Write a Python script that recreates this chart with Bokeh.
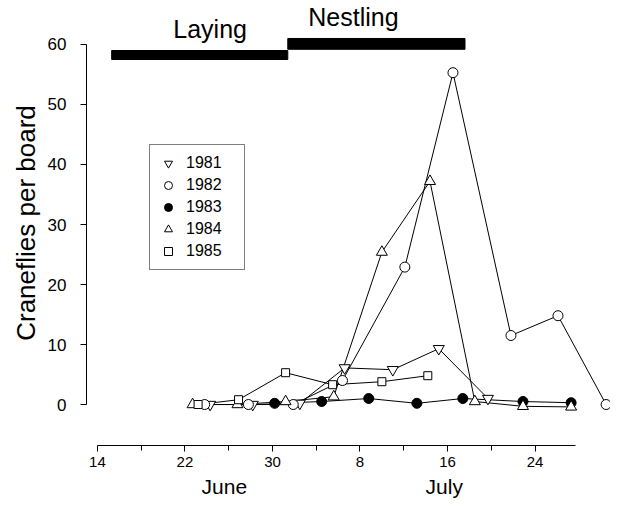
from bokeh.plotting import figure
from bokeh.models import (FixedTicker, LinearAxis, Range1d, Legend, LegendItem)
from bokeh.embed import file_html
from bokeh.resources import INLINE
from bokeh.core.properties import value

# Day numbers: June d -> d, July d -> 30 + d
tick_days = [14, 22, 30, 38, 46, 54]
tick_labels = ["14", "22", "30", "8", "16", "24"]
minor_days = [18, 26, 34, 42, 50]
month_days = [25.6, 45.7]
month_labels = ["June", "July"]

years = ["1981", "1982", "1983", "1984", "1985"]
days_1981 = [24.3, 28.2, 32.5, 36.6, 41.0, 45.2, 49.7]
vals_1981 = [0.0, 0.0, 0.2, 6.1, 5.8, 9.3, 1.0]
days_1982 = [23.8, 27.8, 31.9, 36.4, 42.1, 46.5, 51.8, 56.1, 60.5]
vals_1982 = [0.0, 0.0, 0.0, 4.0, 22.9, 55.3, 11.5, 14.8, 0.0]
days_1983 = [30.2, 34.5, 38.8, 43.2, 47.4, 52.9, 57.3]
vals_1983 = [0.2, 0.5, 1.0, 0.2, 1.0, 0.5, 0.3]
days_1984 = [22.7, 26.8, 31.2, 35.6, 40.0, 44.4, 48.5, 52.9, 57.3]
vals_1984 = [0.0, 0.0, 0.5, 1.3, 25.4, 37.2, 0.5, -0.3, -0.4]
days_1985 = [23.2, 26.9, 31.2, 35.5, 40.0, 44.2]
vals_1985 = [0.0, 0.8, 5.3, 3.3, 3.8, 4.8]

phase_names = ["Laying", "Nestling"]
phase_start = [15.3, 31.4]
phase_end = [31.4, 47.6]
phase_bottom = [57.5, 59.2]
phase_top = [59.0, 61.0]
phase_label_x = [24.3, 37.4]
phase_label_y = [62.6, 64.6]

FONT = "Liberation Sans"

p = figure(width=610, height=502, output_backend="svg", toolbar_location=None,
           x_range=Range1d(13.0, 60.9), y_range=Range1d(-6.83, 67.33),
           min_border_left=86, min_border_right=0, min_border_top=0,
           min_border_bottom=57)
p.outline_line_color = None
p.xgrid.visible = False
p.ygrid.visible = False
p.background_fill_color = "white"

# phase bars
p.quad(left=phase_start, right=phase_end, bottom=phase_bottom, top=phase_top,
       color="black")
p.text(x=phase_label_x, y=phase_label_y, text=phase_names,
       text_font=value(FONT), text_font_size="25px", text_align="center",
       text_baseline="middle", text_color="black")

series = [
    (days_1981, vals_1981, "inverted_triangle", "white", 11, 8),
    (days_1982, vals_1982, "circle", "white", 10, 7),
    (days_1983, vals_1983, "circle", "black", 10, 8),
    (days_1984, vals_1984, "triangle", "white", 11, 8),
    (days_1985, vals_1985, "square", "white", 8, 6),
]
for d, v, m, fc, s, ls in series:
    p.line(d, v, line_color="black", line_width=1)

items = []
for (d, v, m, fc, s, ls), yr in zip(series, years):
    # smaller copy used only for the legend glyph (hidden under the real marks)
    lr = p.scatter(d, v, marker=m, size=ls, fill_color=fc,
                   line_color="black", line_width=1)
    items.append(LegendItem(label=yr, renderers=[lr]))
for d, v, m, fc, s, ls in series:
    p.scatter(d, v, marker=m, size=s, fill_color=fc, line_color="black",
              line_width=1)

legend = Legend(items=items, location=(63, 175))
legend.label_text_font = FONT
legend.label_text_font_size = "16px"
legend.label_text_color = "black"
legend.label_height = 20
legend.glyph_height = 20
legend.glyph_width = 20
legend.spacing = 2
legend.padding = 8
legend.label_standoff = 8
legend.label_width = 50
legend.border_line_color = "black"
legend.border_line_width = 1
legend.background_fill_color = "white"
legend.background_fill_alpha = 1
p.add_layout(legend)

# y axis
ya = p.yaxis[0]
ya.ticker = FixedTicker(ticks=[0, 10, 20, 30, 40, 50, 60])
ya.bounds = (0, 60)
ya.axis_label = "Craneflies per board"
ya.axis_label_text_font = FONT
ya.axis_label_text_font_size = "26px"
ya.axis_label_text_font_style = "normal"
ya.axis_label_text_color = "black"
ya.axis_label_standoff = 4
ya.major_label_text_font = FONT
ya.major_label_text_font_size = "17px"
ya.major_label_text_color = "black"
ya.major_label_standoff = 14
ya.major_tick_out = 6
ya.major_tick_in = 0
ya.minor_tick_out = 0
ya.minor_tick_in = 0
ya.axis_line_color = "black"

# x axis
xa = p.xaxis[0]
xa.ticker = FixedTicker(ticks=tick_days, minor_ticks=minor_days)
xa.major_label_overrides = {t: l for t, l in zip(tick_days, tick_labels)}
xa.bounds = (14, 57.7)
xa.major_label_text_font = FONT
xa.major_label_text_font_size = "15px"
xa.major_label_text_color = "black"
xa.major_label_standoff = 5
xa.major_tick_out = 6
xa.major_tick_in = 0
xa.minor_tick_out = 5
xa.minor_tick_in = 0
xa.axis_line_color = "black"

ma = LinearAxis(ticker=FixedTicker(ticks=month_days),
                major_label_overrides={t: l for t, l in zip(month_days, month_labels)})
ma.axis_line_color = None
ma.major_tick_line_color = None
ma.minor_tick_line_color = None
ma.major_tick_out = 0
ma.major_tick_in = 0
ma.major_label_standoff = 5
ma.major_label_text_font = FONT
ma.major_label_text_font_size = "21px"
ma.major_label_text_color = "black"
p.add_layout(ma, "below")

open("out.html", "w").write(file_html(p, INLINE))
